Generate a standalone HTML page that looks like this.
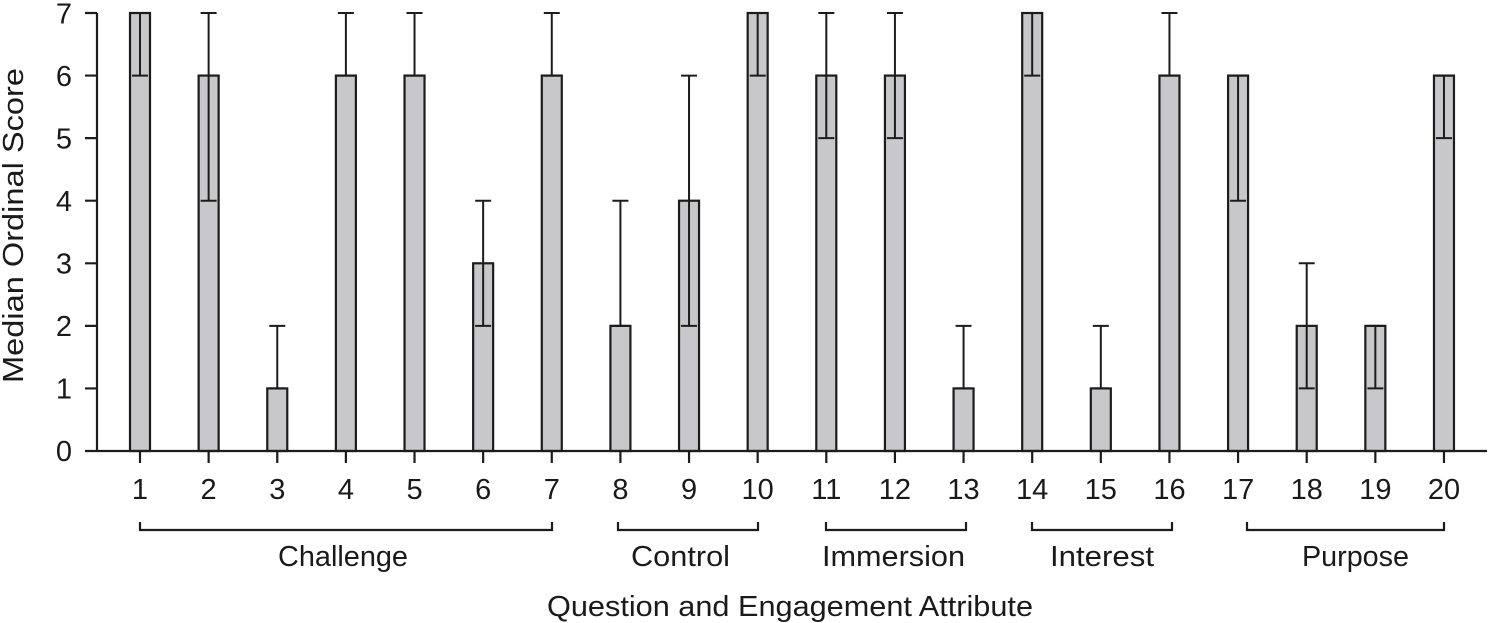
<!DOCTYPE html>
<html><head><meta charset="utf-8"><style>
html,body{margin:0;padding:0;background:#fff;}
svg{display:block;}
text{font-family:"Liberation Sans",sans-serif;fill:#1a1a1a;}
</style></head><body>
<svg width="1488" height="623" viewBox="0 0 1488 623" xmlns="http://www.w3.org/2000/svg">
<rect width="1488" height="623" fill="#fff"/>
<!-- bars -->
<g fill="#c8c8ca" stroke="#1c1c1c" stroke-width="2.2">
<rect x="130" y="13" width="20" height="438"/>
<rect x="198.63" y="75.57" width="20" height="375.43"/>
<rect x="267.26" y="388.43" width="20" height="62.57"/>
<rect x="335.89" y="75.57" width="20" height="375.43"/>
<rect x="404.52" y="75.57" width="20" height="375.43"/>
<rect x="473.15" y="263.29" width="20" height="187.71"/>
<rect x="541.78" y="75.57" width="20" height="375.43"/>
<rect x="610.41" y="325.86" width="20" height="125.14"/>
<rect x="679.04" y="200.71" width="20" height="250.29"/>
<rect x="747.67" y="13" width="20" height="438"/>
<rect x="816.3" y="75.57" width="20" height="375.43"/>
<rect x="884.93" y="75.57" width="20" height="375.43"/>
<rect x="953.56" y="388.43" width="20" height="62.57"/>
<rect x="1022.19" y="13" width="20" height="438"/>
<rect x="1090.82" y="388.43" width="20" height="62.57"/>
<rect x="1159.45" y="75.57" width="20" height="375.43"/>
<rect x="1228.08" y="75.57" width="20" height="375.43"/>
<rect x="1296.71" y="325.86" width="20" height="125.14"/>
<rect x="1365.34" y="325.86" width="20" height="125.14"/>
<rect x="1433.97" y="75.57" width="20" height="375.43"/>
</g>
<!-- error bars -->
<g stroke="#1c1c1c" stroke-width="2" fill="none">
<path d="M140 75.57V13M132 75.57H148M132 13H148"/>
<path d="M208.63 200.71V13M200.63 200.71H216.63M200.63 13H216.63"/>
<path d="M277.26 388.43V325.86M269.26 388.43H285.26M269.26 325.86H285.26"/>
<path d="M345.89 75.57V13M337.89 75.57H353.89M337.89 13H353.89"/>
<path d="M414.52 75.57V13M406.52 75.57H422.52M406.52 13H422.52"/>
<path d="M483.15 325.86V200.71M475.15 325.86H491.15M475.15 200.71H491.15"/>
<path d="M551.78 75.57V13M543.78 75.57H559.78M543.78 13H559.78"/>
<path d="M620.41 325.86V200.71M612.41 325.86H628.41M612.41 200.71H628.41"/>
<path d="M689.04 325.86V75.57M681.04 325.86H697.04M681.04 75.57H697.04"/>
<path d="M757.67 75.57V13M749.67 75.57H765.67M749.67 13H765.67"/>
<path d="M826.3 138.14V13M818.3 138.14H834.3M818.3 13H834.3"/>
<path d="M894.93 138.14V13M886.93 138.14H902.93M886.93 13H902.93"/>
<path d="M963.56 388.43V325.86M955.56 388.43H971.56M955.56 325.86H971.56"/>
<path d="M1032.19 75.57V13M1024.19 75.57H1040.19M1024.19 13H1040.19"/>
<path d="M1100.82 388.43V325.86M1092.82 388.43H1108.82M1092.82 325.86H1108.82"/>
<path d="M1169.45 75.57V13M1161.45 75.57H1177.45M1161.45 13H1177.45"/>
<path d="M1238.08 200.71V75.57M1230.08 200.71H1246.08M1230.08 75.57H1246.08"/>
<path d="M1306.71 388.43V263.29M1298.71 388.43H1314.71M1298.71 263.29H1314.71"/>
<path d="M1375.34 388.43V325.86M1367.34 388.43H1383.34M1367.34 325.86H1383.34"/>
<path d="M1443.97 138.14V75.57M1435.97 138.14H1451.97M1435.97 75.57H1451.97"/>
</g>
<!-- axes -->
<g stroke="#1c1c1c" stroke-width="2.2" fill="none">
<path d="M97 13V451"/>
<path d="M85 451H1487"/>
<path d="M85 13H97M85 75.57H97M85 138.14H97M85 200.71H97M85 263.29H97M85 325.86H97M85 388.43H97"/>
<path d="M140 451V463M208.63 451V463M277.26 451V463M345.89 451V463M414.52 451V463M483.15 451V463M551.78 451V463M620.41 451V463M689.04 451V463M757.67 451V463M826.3 451V463M894.93 451V463M963.56 451V463M1032.19 451V463M1100.82 451V463M1169.45 451V463M1238.08 451V463M1306.71 451V463M1375.34 451V463M1443.97 451V463"/>
<!-- brackets -->
<path d="M140 522V530H552V522"/>
<path d="M618 522V530H758V522"/>
<path d="M826 522V530H966V522"/>
<path d="M1032 522V530H1172V522"/>
<path d="M1247 522V530H1444V522"/>
</g>
<!-- y tick labels -->
<g font-size="29" text-anchor="end">
<text x="72" y="461">0</text>
<text x="72" y="398.5">1</text>
<text x="72" y="336">2</text>
<text x="72" y="273.5">3</text>
<text x="72" y="211">4</text>
<text x="72" y="148.5">5</text>
<text x="72" y="86">6</text>
<text x="72" y="23.5">7</text>
</g>
<!-- x tick labels -->
<g font-size="29" text-anchor="middle">
<text x="140" y="499">1</text>
<text x="208.63" y="499">2</text>
<text x="277.26" y="499">3</text>
<text x="345.89" y="499">4</text>
<text x="414.52" y="499">5</text>
<text x="483.15" y="499">6</text>
<text x="551.78" y="499">7</text>
<text x="620.41" y="499">8</text>
<text x="689.04" y="499">9</text>
<text x="757.67" y="499">10</text>
<text x="826.3" y="499">11</text>
<text x="894.93" y="499">12</text>
<text x="963.56" y="499">13</text>
<text x="1032.19" y="499">14</text>
<text x="1100.82" y="499">15</text>
<text x="1169.45" y="499">16</text>
<text x="1238.08" y="499">17</text>
<text x="1306.71" y="499">18</text>
<text x="1375.34" y="499">19</text>
<text x="1443.97" y="499">20</text>
</g>
<!-- group labels -->
<g font-size="29">
<text x="278" y="566" textLength="130" lengthAdjust="spacingAndGlyphs">Challenge</text>
<text x="631" y="566" textLength="99" lengthAdjust="spacingAndGlyphs">Control</text>
<text x="822" y="566" textLength="143" lengthAdjust="spacingAndGlyphs">Immersion</text>
<text x="1050" y="566" textLength="104" lengthAdjust="spacingAndGlyphs">Interest</text>
<text x="1302" y="566" textLength="107" lengthAdjust="spacingAndGlyphs">Purpose</text>
</g>
<!-- axis titles -->
<text x="547" y="616" font-size="29" textLength="486" lengthAdjust="spacingAndGlyphs">Question and Engagement Attribute</text>
<text transform="translate(23,383) rotate(-90)" x="0" y="0" font-size="29" textLength="315" lengthAdjust="spacingAndGlyphs">Median Ordinal Score</text>
</svg>
</body></html>
